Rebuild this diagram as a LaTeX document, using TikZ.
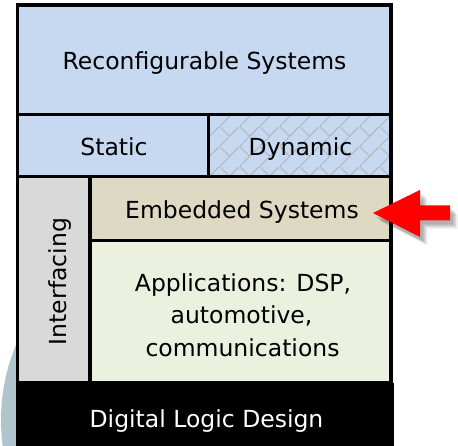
\documentclass[tikz,border=0pt]{standalone}
\usepackage{fontspec}
\setmainfont{DejaVu Sans}
\usetikzlibrary{patterns.meta}

\definecolor{layerblue}{RGB}{198,217,241}
\definecolor{layertan}{RGB}{221,217,195}
\definecolor{layergreen}{RGB}{235,241,222}
\definecolor{layergray}{RGB}{217,217,217}
\definecolor{hatchgray}{RGB}{178,180,184}
\definecolor{discblue}{RGB}{176,196,206}
\definecolor{arrowred}{RGB}{255,0,0}

% diagonal brick hatch for the dynamic layer
\tikzdeclarepattern{
  name=diagbrick,
  type=uncolored,
  bottom left={(0pt,0pt)},
  top right={(20pt,20pt)},
  tile size={(20pt,20pt)},
  code={
    \draw[line width=1pt] (0pt,0pt) -- (20pt,20pt);
    \draw[line width=1pt] (0pt,20pt) -- (10pt,10pt);
  }
}

\begin{document}
\begin{tikzpicture}[x=1pt,y=-1pt,
  box/.style={draw=black, line width=3.5pt, inner sep=0pt, outer sep=0pt, anchor=north west},
  lbl/.style={font=\fontsize{23.5}{32}\selectfont, inner sep=0pt, anchor=base},
]
\useasboundingbox (0,0) rectangle (458,446);

% decorative disc behind the stack
\fill[discblue] (196,420) circle[radius=195];

% base layer
\node[fill=black, inner sep=0pt, outer sep=0pt, anchor=north west,
      minimum width=378pt, minimum height=70pt] (dld) at (16,383) {};

% layers of the stack
\node[box, fill=layerblue, minimum width=373.5pt, minimum height=109.5pt] (recon) at (17.5,5) {};
\node[box, fill=layerblue, minimum width=191pt, minimum height=62pt] (static) at (17.5,114.5) {};
\node[box, preaction={fill=layerblue}, pattern=diagbrick, pattern color=hatchgray,
      minimum width=182.5pt, minimum height=62pt] (dynamic) at (208.5,114.5) {};
\node[box, fill=layergray, minimum width=72.5pt, minimum height=206.5pt] (interf) at (17.5,176.5) {};
\node[box, fill=layertan, minimum width=301pt, minimum height=64pt] (embedded) at (90,176.5) {};
\node[box, fill=layergreen, minimum width=301pt, minimum height=142.5pt] (apps) at (90,240.5) {};

% labels
\node[lbl] (tRecon) at (204.5,69.3) {Reconfigurable Systems};
\node[lbl] (tStatic) at (114,156) {Static};
\node[lbl] (tDynamic) at (300.5,156) {Dynamic};
\node[lbl] (tEmbedded) at (242,219) {Embedded Systems};
\node[lbl] (tApps1) at (243,292) {Applications: DSP,};
\node[lbl] (tApps2) at (241.5,324) {automotive,};
\node[lbl] (tApps3) at (242.5,356) {communications};
\node[lbl, rotate=90] (tInterf) at (66,281.5) {Interfacing};
\node[lbl, text=white] (tDld) at (206.5,428) {Digital Logic Design};

% pointer arrow with soft shadow
\foreach \d/\o in {3/0.09, 4.5/0.11, 6/0.09, 7.5/0.06}{
  \fill[black, opacity=\o, shift={(\d,\d+1)}]
    (373,213) -- (420,190) -- (420,205.5) -- (450,205.5) -- (450,220.5)
    -- (420,220.5) -- (420,237) -- cycle;
}
\fill[arrowred] (373,213) coordinate (tip) -- (420,190) -- (420,205.5) -- (450,205.5)
  -- (450,220.5) -- (420,220.5) -- (420,237) -- cycle;
\end{tikzpicture}
\end{document}
